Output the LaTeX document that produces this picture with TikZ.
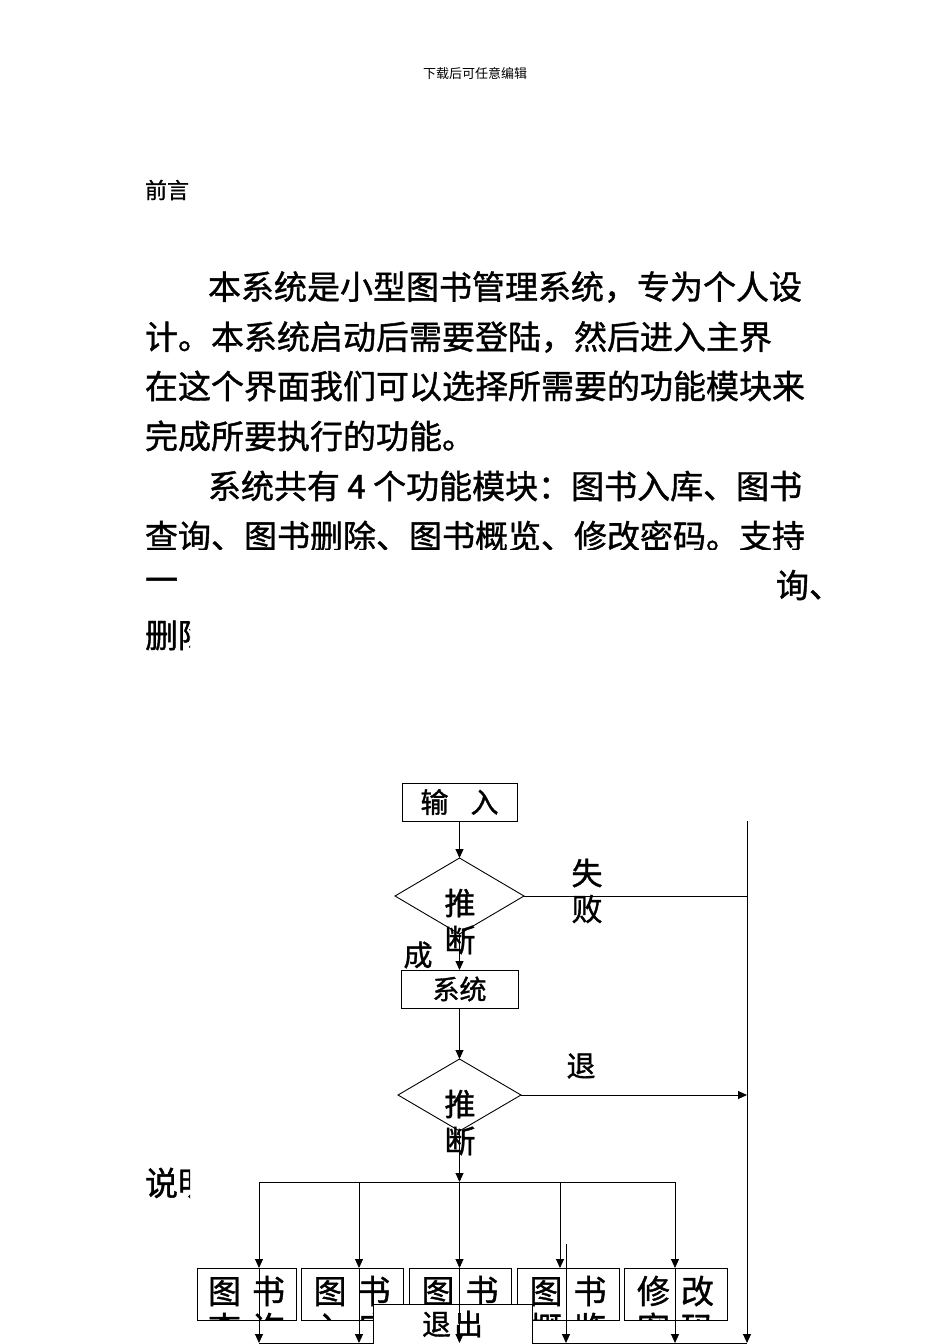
\documentclass[tikz,border=0pt]{standalone}
\usepackage{fontspec}
\setmainfont{Noto Sans CJK SC}[FakeBold=1.2]
\newfontfamily\hdrfont{Noto Sans CJK SC}
\usetikzlibrary{arrows.meta,shapes.geometric}
\newcommand{\fsz}[1]{\fontsize{#1}{#1}\selectfont}
\begin{document}
\begin{tikzpicture}[x=1pt,y=-1pt,
  every node/.style={inner sep=0pt,outer sep=0pt},
  para/.style={anchor=west,font=\fsz{33}},
  fbox/.style={draw,line width=0.9pt,fill=white},
  ln/.style={line width=0.9pt},
  arr/.style={line width=0.9pt,-{Triangle[length=9pt,width=8pt]}},
  lab/.style={font=\fsz{31}},
  btxt/.style={font=\fsz{33}}]
\useasboundingbox (0,0) rectangle (950,1344);
% ---------- text page ----------
\node[font=\hdrfont\fsz{13}] (hdr) at (475,74) {下载后可任意编辑};
\node[anchor=west,font=\fsz{22}] (pre) at (145,190) {前言};
\node[para] (l1) at (208,287) {本系统是小型图书管理系统，专为个人设};
\node[para] (l2) at (145,337) {计。本系统启动后需要登陆，然后进入主界};
\node[para] (l3) at (145,386) {在这个界面我们可以选择所需要的功能模块来};
\node[para] (l4) at (145,436) {完成所要执行的功能。};
\node[para] (l5) at (208,486) {系统共有 4 个功能模块：图书入库、图书};
\begin{scope}
  \clip (0,500) rectangle (950,549);
  \node[para] (l6) at (145,536) {查询、图书删除、图书概览、修改密码。支持};
\end{scope}
\node[para] (l7a) at (145,585) {一};
\node[para] (l7b) at (776,585) {询、};
\begin{scope}
  \clip (0,600) rectangle (190,670);
  \node[para] (l8) at (145,635) {删除};
\end{scope}
\begin{scope}
  \clip (0,1150) rectangle (190,1220);
  \node[para] (sm) at (145,1183) {说明};
\end{scope}
% ---------- flowchart ----------
\node[fbox,minimum width=115pt,minimum height=38pt,font=\fsz{28}] (in) at (459.5,802) {输\hspace{22pt}入};
\node[draw,ln,diamond,minimum width=129pt,minimum height=76pt] (d1) at (459.5,896) {};
\node[fbox,minimum width=117pt,minimum height=38pt,font=\fsz{27}] (sys) at (459.5,989) {系统};
\node[draw,ln,diamond,minimum width=123pt,minimum height=72pt] (d2) at (459.5,1095) {};

\coordinate (rtop) at (747,821);
\coordinate (f1) at (747,896);
\coordinate (f2) at (747,1095);
\coordinate (bus) at (459.5,1182);
\coordinate (p1) at (259,1182);
\coordinate (p2) at (359,1182);
\coordinate (p3) at (459.5,1182);
\coordinate (p4) at (560,1182);
\coordinate (p5) at (675,1182);
\coordinate (q4) at (566,1244);
\coordinate (bb) at (747,1343);
\coordinate (bbL) at (259,1343);

\draw[arr] (in.south) -- (d1.north);
\draw[arr] (d1.south) -- (sys.north);
\draw[ln] (d1.east) -- (f1);
\draw[arr] (sys.south) -- (d2.north);
\draw[arr] (d2.east) -- (f2);
\draw[arr] (d2.south) -- (bus);
\draw[ln] (p1) -- (p5);
\draw[ln] (bbL) -- (bb);
\draw[arr] (rtop) -- (bb);

\node[lab] (t1a) at (460,903) {推};
\node[lab] (t1b) at (460,940) {断};
\node[font=\fsz{29}] (cheng) at (418,955) {成};
\node[lab] (shi) at (587,873) {失};
\node[lab] (bai) at (587,909) {败};
\node[lab] (t2a) at (460,1104) {推};
\node[lab] (t2b) at (460,1141) {断};
\node[font=\fsz{29}] (tui) at (581,1066) {退};

% function boxes
\node[fbox,minimum width=99pt,minimum height=52pt] (b1) at (246.5,1294) {};
\node[fbox,minimum width=102pt,minimum height=52pt] (b2) at (352,1294) {};
\node[fbox,minimum width=102pt,minimum height=52pt] (b3) at (460,1294) {};
\node[fbox,minimum width=102pt,minimum height=52pt] (b4) at (568,1294) {};
\node[fbox,minimum width=103pt,minimum height=52pt] (b5) at (675.5,1294) {};

\node[btxt] (b1a) at (b1.center |- 0,1291) {图\hspace{11pt}书};
\node[btxt] (b2a) at (b2.center |- 0,1291) {图\hspace{11pt}书};
\node[btxt] (b3a) at (b3.center |- 0,1291) {图\hspace{11pt}书};
\node[btxt] (b4a) at (b4.center |- 0,1291) {图\hspace{11pt}书};
\node[btxt] (b5a) at (b5.center |- 0,1291) {修\hspace{11pt}改};
\begin{scope}
  \clip (b1.north west) rectangle (b1.south east);
  \node[btxt] (b1b) at (b1.center |- 0,1328) {查\hspace{11pt}询};
\end{scope}
\begin{scope}
  \clip (b2.north west) rectangle (b2.south east);
  \node[btxt] (b2b) at (b2.center |- 0,1328) {入\hspace{11pt}库};
\end{scope}
\begin{scope}
  \clip (b4.north west) rectangle (b4.south east);
  \node[btxt] (b4b) at (b4.center |- 0,1328) {概\hspace{11pt}览};
\end{scope}
\begin{scope}
  \clip (b5.north west) rectangle (b5.south east);
  \node[btxt] (b5b) at (b5.center |- 0,1328) {密\hspace{11pt}码};
\end{scope}

% quit box
\node[fbox,minimum width=159pt,minimum height=44pt,anchor=north] (quit) at (452.5,1304) {};
\node[font=\fsz{29}] (quitt) at (452.5,1324) {退\hspace{3pt}出};

% arrows to and from boxes
\draw[arr] (p1) -- (p1 |- b1.north);
\draw[arr] (p2) -- (p2 |- b2.north);
\draw[arr] (p3) -- (p3 |- b3.north);
\draw[arr] (p4) -- (p4 |- b4.north);
\draw[arr] (p5) -- (p5 |- b5.north);
\draw[arr] (p1 |- b1.north) -- (p1 |- bb);
\draw[arr] (p2 |- b2.north) -- (p2 |- bb);
\draw[arr] (p3 |- b3.north) -- (p3 |- bb);
\draw[arr] (q4) -- (q4 |- bb);
\draw[arr] (p5 |- b5.north) -- (p5 |- bb);
\end{tikzpicture}
\end{document}
